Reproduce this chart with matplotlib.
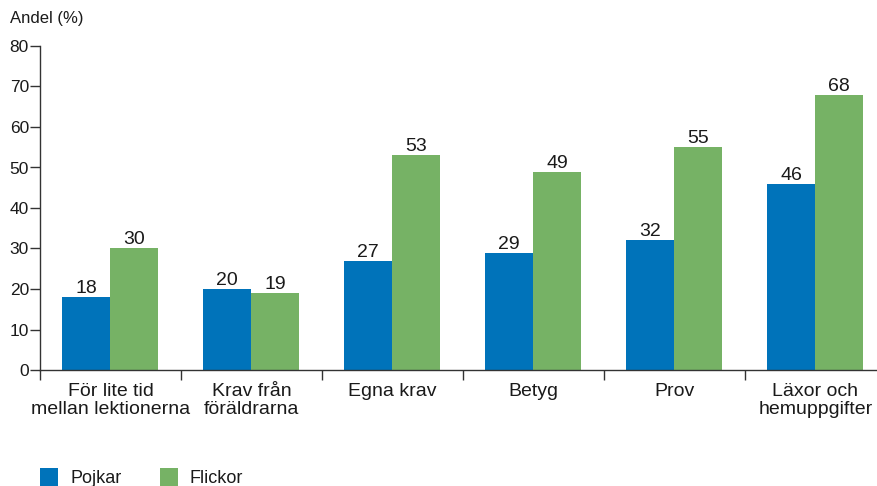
import matplotlib
matplotlib.use("Agg")
import matplotlib.pyplot as plt
import numpy as np
from matplotlib.patches import Rectangle

categories = ["För lite tid\nmellan lektionerna", "Krav från\nföräldrarna", "Egna krav",
              "Betyg", "Prov", "Läxor och\nhemuppgifter"]
pojkar = [18, 20, 27, 29, 32, 46]
flickor = [30, 19, 53, 49, 55, 68]
series_names = ["Pojkar", "Flickor"]
yticks = [0, 10, 20, 30, 40, 50, 60, 70, 80]

blue = "#0073BA"
green = "#76B265"
plt.rcParams['font.family'] = ['Liberation Sans', 'DejaVu Sans']

W, H = 878, 486
fig = plt.figure(figsize=(W / 100, H / 100), dpi=100)
ax = fig.add_axes([40 / W, (H - 370) / H, (878 - 40) / W, 324 / H])

n = len(categories)
x = np.arange(n)
bw = 0.34
b1 = ax.bar(x + 0.156, pojkar, width=bw, align='edge', color=blue, linewidth=0)
b2 = ax.bar(x + 0.156 + bw, flickor, width=bw, align='edge', color=green, linewidth=0)

for bars, vals in ((b1, pojkar), (b2, flickor)):
    for r, v in zip(bars, vals):
        ax.annotate(str(v), (r.get_x() + r.get_width() / 2, v), xytext=(0, 0),
                    textcoords='offset points', ha='center', va='bottom',
                    fontsize=14, color='#1a1a1a')

ax.set_xlim(0, 838 / 141)
ax.set_ylim(0, 80)
ax.set_yticks(yticks)
ax.set_yticklabels([str(t) for t in yticks], fontsize=12.5, color='#1a1a1a')
ax.set_xticks(np.arange(n))
ax.set_xticklabels([])
ax.set_xticks(x + 0.5, minor=True)
ax.set_xticklabels(categories, minor=True, fontsize=14, color='#1a1a1a', linespacing=1.12)
ax.tick_params(axis='x', which='minor', length=0, pad=9)
ax.tick_params(axis='x', which='major', length=7, width=1, color='#333333', direction='out')
ax.tick_params(axis='y', length=7, width=1, color='#333333', pad=1)
for s in ('top', 'right'):
    ax.spines[s].set_visible(False)
for s in ('left', 'bottom'):
    ax.spines[s].set_color('#333333')
    ax.spines[s].set_linewidth(1)

fig.text(10 / W, 1 - 18 / H, "Andel (%)", fontsize=12, color='#1a1a1a', va='center', ha='left')

# legend
for xs, col, name, tx in ((40, blue, series_names[0], 70), (160, green, series_names[1], 190)):
    fig.patches.append(Rectangle((xs / W, 0), 18 / W, 18 / H, transform=fig.transFigure,
                                 color=col, linewidth=0))
    fig.text(tx / W, 1 - 478 / H, name, fontsize=13, color='#1a1a1a', va='center', ha='left')

fig.savefig("out.png", dpi=100)
